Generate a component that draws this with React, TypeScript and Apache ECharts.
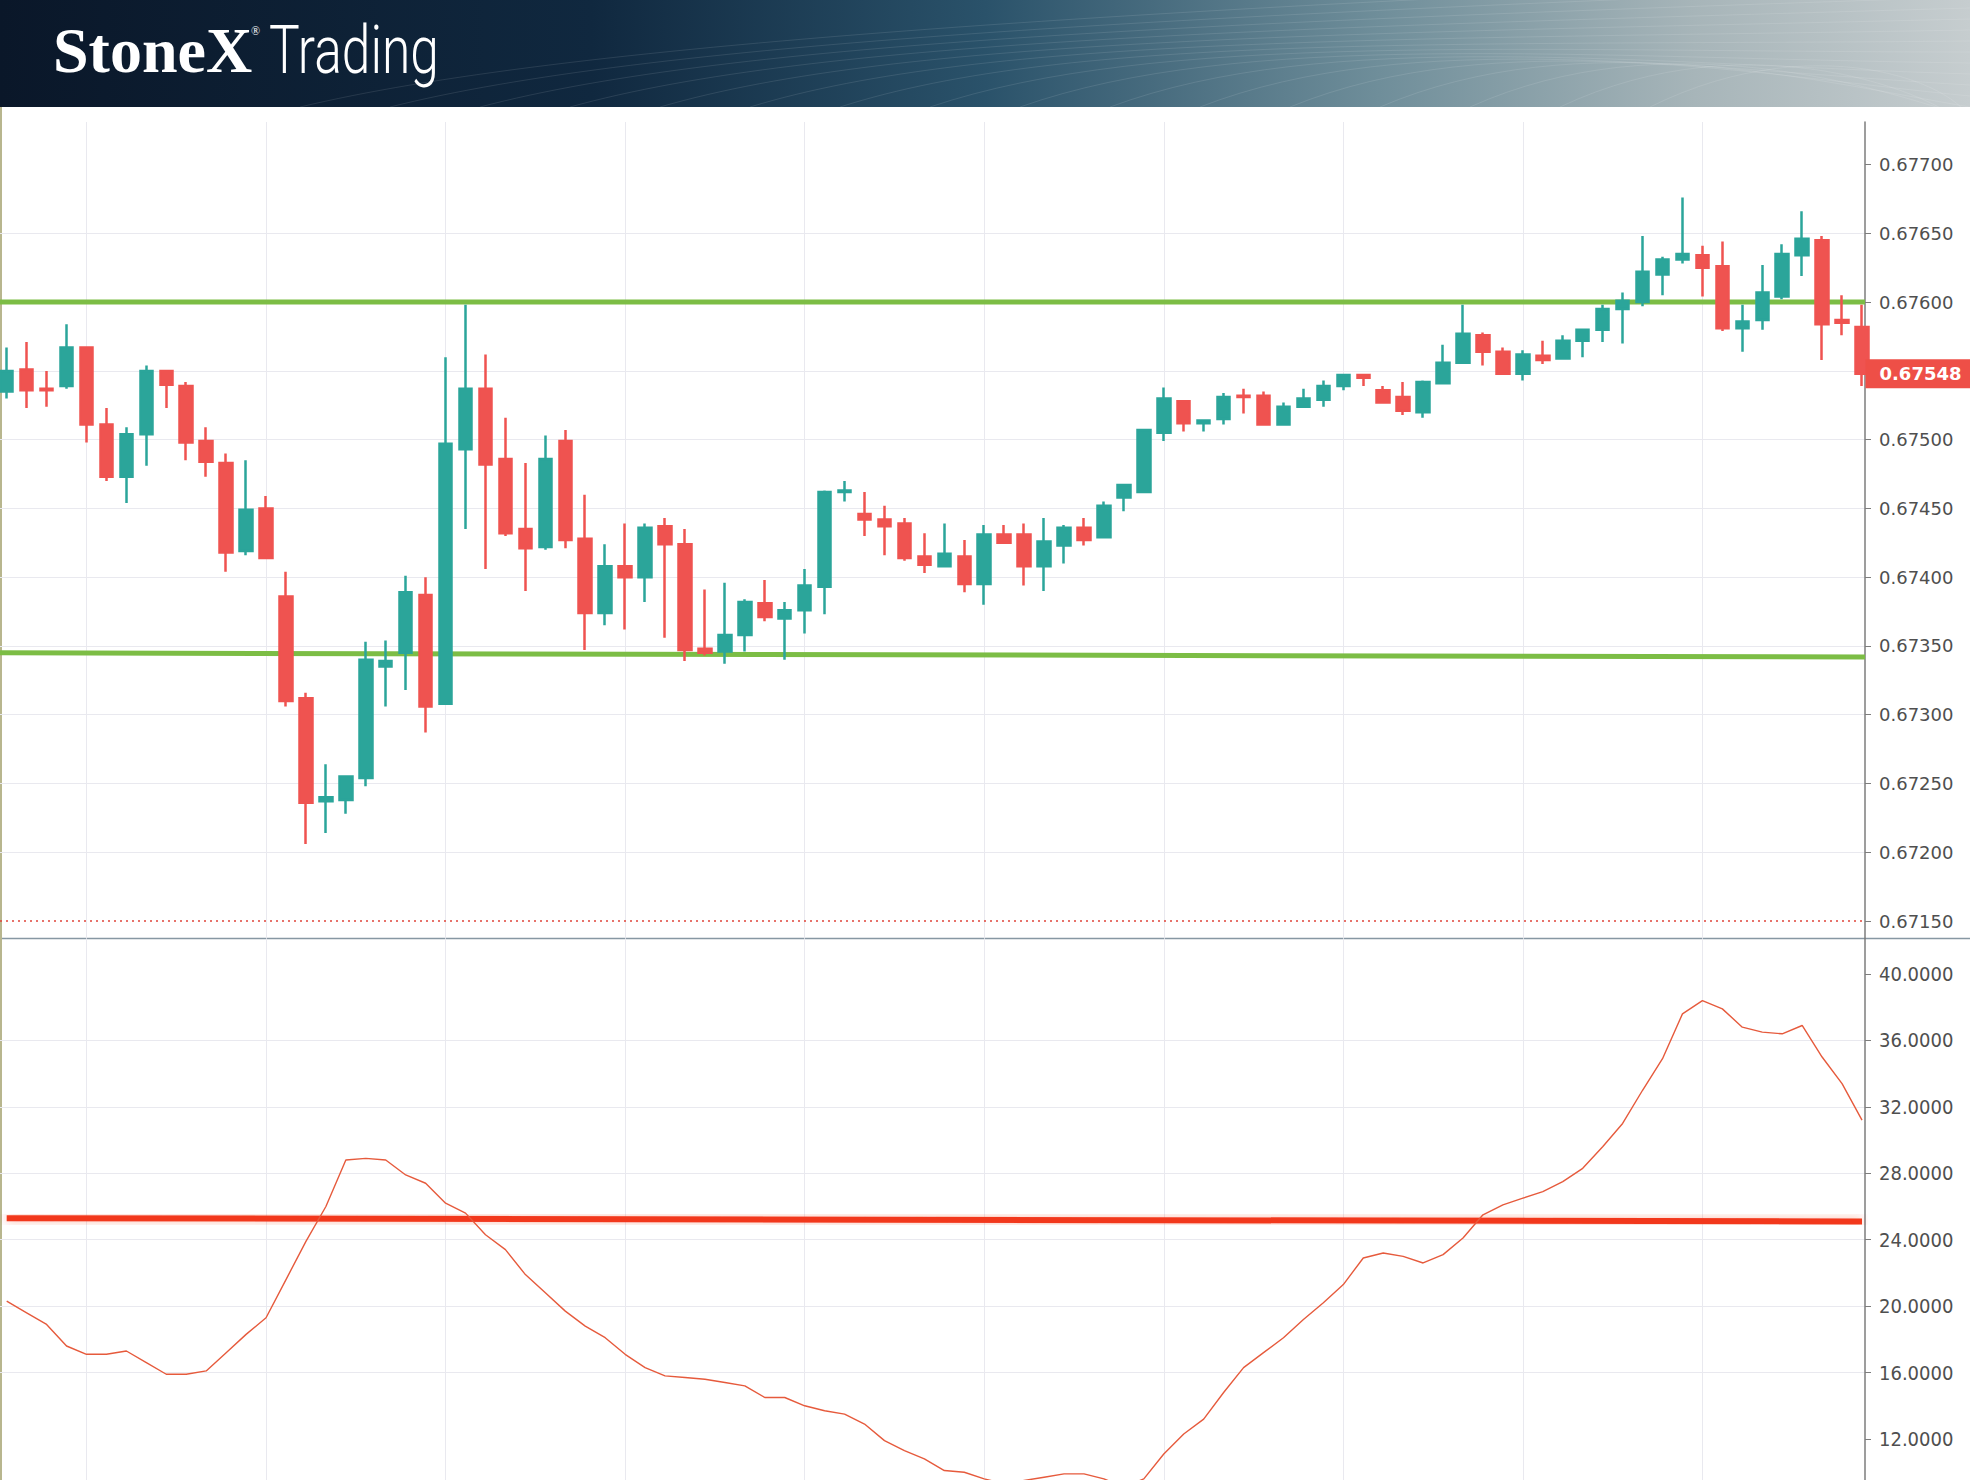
import React, { useEffect, useRef } from "react";
import * as echarts from "echarts";

// ---- Data ----
const opens = [
  0.67535, 0.67551, 0.67537, 0.67539, 0.67567, 0.67511, 0.67473, 0.67504, 0.6755, 0.67539,
  0.67499, 0.67483, 0.67419, 0.6745, 0.67386, 0.67312, 0.67237, 0.67238, 0.67254, 0.67335,
  0.67345, 0.67387, 0.67308, 0.67493, 0.67537, 0.67486, 0.67435, 0.67422, 0.67499, 0.67428,
  0.67374, 0.67408, 0.674, 0.67437, 0.67424, 0.67348, 0.67346, 0.67358, 0.67381, 0.6737,
  0.67376, 0.67393, 0.67462, 0.67446, 0.67442, 0.67439, 0.67415, 0.67408, 0.67415, 0.67395,
  0.67431, 0.67431, 0.67408, 0.67423, 0.67436, 0.67429, 0.67458, 0.67462, 0.67505, 0.67528,
  0.67512, 0.67515, 0.67532, 0.67532, 0.67511, 0.67524, 0.67529, 0.67539, 0.67547, 0.67536,
  0.67531, 0.6752, 0.67541, 0.67556, 0.67576, 0.67564, 0.67548, 0.67561, 0.67559, 0.67572,
  0.6758, 0.67595, 0.676, 0.6762, 0.67631, 0.67634, 0.67626, 0.67581, 0.67587, 0.67604,
  0.67634, 0.67645, 0.67587, 0.67582,
];
const closes = [
  0.6755, 0.67536, 0.67536, 0.67567, 0.67511, 0.67473, 0.67504, 0.6755, 0.6754, 0.67498,
  0.67484, 0.67418, 0.67449, 0.67414, 0.6731, 0.67236, 0.6724, 0.67255, 0.6734, 0.67339,
  0.67389, 0.67306, 0.67497, 0.67537, 0.67482, 0.67432, 0.67421, 0.67486, 0.67427, 0.67374,
  0.67408, 0.674, 0.67436, 0.67424, 0.67347, 0.67345, 0.67358, 0.67382, 0.67371, 0.67376,
  0.67394, 0.67462, 0.67463, 0.67442, 0.67437, 0.67414, 0.67409, 0.67417, 0.67395, 0.67431,
  0.67425, 0.67408, 0.67426, 0.67436, 0.67427, 0.67452, 0.67467, 0.67507, 0.6753, 0.67512,
  0.67514, 0.67531, 0.67531, 0.67511, 0.67524, 0.6753, 0.67539, 0.67547, 0.67545, 0.67527,
  0.67521, 0.67542, 0.67556, 0.67577, 0.67564, 0.67548, 0.67562, 0.67558, 0.67572, 0.6758,
  0.67595, 0.67601, 0.67622, 0.67631, 0.67635, 0.67625, 0.67581, 0.67586, 0.67607, 0.67635,
  0.67646, 0.67584, 0.67585, 0.67548,
];
const lows = [
  0.6753, 0.67523, 0.67524, 0.67537, 0.67498, 0.6747, 0.67454, 0.67481, 0.67523, 0.67485,
  0.67473, 0.67404, 0.67416, 0.67414, 0.67306, 0.67206, 0.67214, 0.67228, 0.67248, 0.67306,
  0.67318, 0.67287, 0.67307, 0.67435, 0.67406, 0.6743, 0.6739, 0.6742, 0.67421, 0.67347,
  0.67365, 0.67362, 0.67382, 0.67356, 0.67339, 0.67343, 0.67337, 0.67346, 0.67368, 0.6734,
  0.67359, 0.67373, 0.67455, 0.6743, 0.67416, 0.67412, 0.67403, 0.67408, 0.67389, 0.6738,
  0.67425, 0.67394, 0.6739, 0.6741, 0.67423, 0.67429, 0.67448, 0.67462, 0.67499, 0.67506,
  0.67506, 0.67511, 0.67519, 0.67511, 0.67511, 0.67523, 0.67524, 0.67536, 0.67539, 0.67527,
  0.67518, 0.67516, 0.67541, 0.67556, 0.67554, 0.67547, 0.67543, 0.67555, 0.67559, 0.6756,
  0.67571, 0.6757, 0.67597, 0.67605, 0.67628, 0.67604, 0.67579, 0.67564, 0.6758, 0.67602,
  0.67619, 0.67558, 0.67576, 0.67539,
];
const highs = [
  0.67567, 0.67571, 0.6755, 0.67584, 0.67567, 0.67523, 0.67509, 0.67554, 0.6755, 0.67542,
  0.67509, 0.6749, 0.67485, 0.67459, 0.67404, 0.67316, 0.67264, 0.67255, 0.67353, 0.67354,
  0.67401, 0.674, 0.6756, 0.67598, 0.67562, 0.67516, 0.67483, 0.67503, 0.67507, 0.6746,
  0.67424, 0.67439, 0.67439, 0.67443, 0.67435, 0.67391, 0.67396, 0.67384, 0.67398, 0.67382,
  0.67406, 0.67463, 0.6747, 0.67462, 0.67452, 0.67443, 0.67432, 0.67439, 0.67427, 0.67438,
  0.67438, 0.67439, 0.67443, 0.67438, 0.67443, 0.67455, 0.67468, 0.67507, 0.67538, 0.67528,
  0.67514, 0.67534, 0.67537, 0.67535, 0.67527, 0.67537, 0.67543, 0.67547, 0.67547, 0.67539,
  0.67542, 0.67543, 0.67569, 0.67598, 0.67578, 0.67567, 0.67565, 0.67572, 0.67576, 0.6758,
  0.67598, 0.67607, 0.67648, 0.67633, 0.67676, 0.67641, 0.67644, 0.67598, 0.67627, 0.67642,
  0.67666, 0.67648, 0.67605, 0.67598,
];
const indicator = [
  20.3, 19.6, 18.9, 17.6, 17.1, 17.1, 17.3, 16.6, 15.9, 15.9,
  16.1, 17.2, 18.3, 19.3, 21.6, 23.9, 26.0, 28.8, 28.9, 28.8,
  27.9, 27.4, 26.2, 25.6, 24.3, 23.4, 21.9, 20.8, 19.7, 18.8,
  18.1, 17.1, 16.3, 15.8, 15.7, 15.6, 15.4, 15.2, 14.5, 14.5,
  14.0, 13.7, 13.5, 12.9, 11.9, 11.3, 10.8, 10.1, 10.0, 9.6,
  9.3, 9.5, 9.7, 9.9, 9.9, 9.6, 9.1, 9.6, 11.1, 12.3,
  13.2, 14.8, 16.3, 17.2, 18.1, 19.2, 20.2, 21.3, 22.9, 23.2,
  23.0, 22.6, 23.1, 24.1, 25.5, 26.1, 26.5, 26.9, 27.5, 28.3,
  29.6, 31.0, 33.0, 34.9, 37.6, 38.4, 37.9, 36.8, 36.5, 36.4,
  36.9, 35.0, 33.4, 31.2,
];
const priceTicks = [0.6715, 0.672, 0.6725, 0.673, 0.6735, 0.674, 0.6745, 0.675, 0.6755, 0.676, 0.6765, 0.677];
const priceLabels = [0.6715, 0.672, 0.6725, 0.673, 0.6735, 0.674, 0.6745, 0.675, 0.676, 0.6765, 0.677];
const indicatorTicks = [12, 16, 20, 24, 28, 32, 36, 40];
const verticalGridAt = [4, 13, 22, 31, 40, 49, 58, 67, 76, 85];
const resistance = [0.676, 0.676];
const support = [0.67345, 0.67342];
const thresholdLevel = [25.3, 25.1];
const dottedLevel = 0.6715;
const lastPrice = 0.67548;

// ---- Layout ----
const W = 1970;
const H = 1480;
const PLOT_W = 1865;
const UP_TOP = 122;
const SEP_Y = 938.5;
const X_MIN = -0.336;
const X_MAX = 93.15;
const P_MIN = 0.6713728;
const P_MAX = 0.6773097;
const I_MIN = 9.531;
const I_MAX = 42.138;

const TEAL = "#2ba59a";
const RED = "#ef5350";
const GREEN = "#7cbd45";
const GRID_LINE = "#e9e9ef";

export default function App() {
  const ref = useRef<HTMLDivElement>(null);

  useEffect(() => {
    if (!ref.current) return;
    document.body.style.margin = "0";
    const chart = echarts.init(ref.current, null, { renderer: "svg", width: W, height: H });

    const candleData = opens.map((o, i) => [i, o, closes[i], lows[i], highs[i]]);
    const lineData = indicator.map((v, i) => [i, v]);
    const lastIdx = opens.length - 1;

    const swirls: any[] = [];
    for (let k = 0; k < 16; k++) {
      swirls.push({
        type: "bezierCurve",
        silent: true,
        shape: {
          x1: 300 + k * 90,
          y1: 107,
          cpx1: 560 + k * 85,
          cpy1: 45 - k * 2,
          cpx2: 1100 + k * 60,
          cpy2: 10 + k * 6,
          x2: 1970,
          y2: -25 + k * 11,
        },
        style: { fill: "none", stroke: "rgba(255,255,255,0.10)", lineWidth: 1 },
      });
    }

    const verticalGrid = (z: number) => ({
      silent: true,
      z,
      symbol: ["none", "none"],
      animation: false,
      label: { show: false },
      data: verticalGridAt.map((v) => ({ xAxis: v, lineStyle: { color: GRID_LINE, width: 1, type: "solid" } })),
    });

    const option: any = {
      animation: false,
      backgroundColor: "#ffffff",
      grid: [
        { left: 0, top: UP_TOP, width: PLOT_W, height: SEP_Y - UP_TOP },
        { left: 0, top: SEP_Y, width: PLOT_W, height: H - SEP_Y },
      ],
      xAxis: [
        { type: "value", gridIndex: 0, min: X_MIN, max: X_MAX, show: false },
        { type: "value", gridIndex: 1, min: X_MIN, max: X_MAX, show: false },
      ],
      yAxis: [
        {
          type: "value",
          gridIndex: 0,
          position: "right",
          min: P_MIN,
          max: P_MAX,
          minInterval: 0.0005,
          maxInterval: 0.0005,
          axisLine: { show: true, onZero: false, lineStyle: { color: "#7d7d7d", width: 1.5 } },
          axisTick: { show: true, length: 6, customValues: priceTicks, lineStyle: { color: "#7d7d7d" } },
          axisLabel: {
            customValues: priceLabels,
            formatter: (v: number) => v.toFixed(5),
            color: "#4f4f4f",
            fontSize: 18,
            fontFamily: "DejaVu Sans",
            margin: 14,
          },
          splitLine: { show: true, showMinLine: false, showMaxLine: false, lineStyle: { color: GRID_LINE, width: 1 } },
        },
        {
          type: "value",
          gridIndex: 1,
          position: "right",
          min: I_MIN,
          max: I_MAX,
          minInterval: 4,
          maxInterval: 4,
          axisLine: { show: true, onZero: false, lineStyle: { color: "#7d7d7d", width: 1.5 } },
          axisTick: { show: true, length: 6, customValues: indicatorTicks, lineStyle: { color: "#7d7d7d" } },
          axisLabel: {
            customValues: indicatorTicks,
            formatter: (v: number) => v.toFixed(4),
            color: "#4f4f4f",
            fontSize: 20,
            fontFamily: "'Liberation Sans Narrow', 'DejaVu Sans Condensed', 'Roboto', sans-serif",
            margin: 14,
          },
          splitLine: { show: true, showMinLine: false, showMaxLine: false, lineStyle: { color: GRID_LINE, width: 1 } },
        },
      ],
      series: [
        {
          name: "dotted",
          type: "line",
          xAxisIndex: 0,
          yAxisIndex: 0,
          z: 1,
          data: [[X_MIN, dottedLevel], [X_MAX, dottedLevel]],
          showSymbol: false,
          silent: true,
          lineStyle: { color: "#e0443a", width: 1.5, type: [2, 4] },
          markLine: verticalGrid(0),
        },
        {
          name: "resistance",
          type: "line",
          xAxisIndex: 0,
          yAxisIndex: 0,
          z: 1,
          data: [[X_MIN, resistance[0]], [X_MAX, resistance[1]]],
          showSymbol: false,
          silent: true,
          lineStyle: { color: GREEN, width: 5 },
        },
        {
          name: "support",
          type: "line",
          xAxisIndex: 0,
          yAxisIndex: 0,
          z: 1,
          data: [[X_MIN, support[0]], [X_MAX, support[1]]],
          showSymbol: false,
          silent: true,
          lineStyle: { color: GREEN, width: 5 },
        },
        {
          name: "price",
          type: "candlestick",
          xAxisIndex: 0,
          yAxisIndex: 0,
          z: 3,
          data: candleData,
          encode: { x: 0, y: [1, 2, 3, 4] },
          barWidth: 13,
          silent: true,
          itemStyle: {
            color: TEAL,
            color0: RED,
            borderColor: TEAL,
            borderColor0: RED,
            borderWidth: 2.5,
          },
        },
        {
          name: "lastPrice",
          type: "scatter",
          xAxisIndex: 0,
          yAxisIndex: 0,
          clip: false,
          silent: true,
          symbolSize: 1,
          itemStyle: { color: "rgba(0,0,0,0)", opacity: 1 },
          data: [[X_MAX, lastPrice]],
          label: {
            show: true,
            position: "right",
            distance: 0,
            opacity: 1,
            formatter: () => lastPrice.toFixed(5),
            color: "#ffffff",
            fontWeight: "bold",
            fontSize: 18,
            fontFamily: "DejaVu Sans",
            backgroundColor: "#ee4f47",
            padding: [6, 14, 5, 14],
          },
          z: 10,
        },
        {
          name: "indicator",
          type: "line",
          xAxisIndex: 1,
          yAxisIndex: 1,
          z: 3,
          data: lineData,
          showSymbol: false,
          silent: true,
          lineStyle: { color: "#e65a3c", width: 1.4 },
          markLine: verticalGrid(0),
        },
        {
          name: "threshold",
          type: "line",
          xAxisIndex: 1,
          yAxisIndex: 1,
          z: 2,
          data: [[0, thresholdLevel[0]], [lastIdx, thresholdLevel[1]]],
          showSymbol: false,
          silent: true,
          lineStyle: { color: "#f2381c", width: 6, shadowBlur: 10, shadowColor: "rgba(242,56,28,0.35)" },
        },
      ],
      graphic: [
        {
          type: "rect",
          silent: true,
          shape: { x: 0, y: 0, width: W, height: 107 },
          style: {
            fill: {
              type: "linear",
              x: 0,
              y: 0,
              x2: 1,
              y2: 0,
              colorStops: [
                { offset: 0, color: "#0a1729" },
                { offset: 0.3, color: "#10283f" },
                { offset: 0.5, color: "#2a526a" },
                { offset: 0.7, color: "#6f8e9a" },
                { offset: 0.86, color: "#a7b5b9" },
                { offset: 1, color: "#c6cdcf" },
              ],
            },
          },
        },
        ...swirls,
        {
          type: "text",
          silent: true,
          x: 53,
          y: 50,
          style: {
            text: "StoneX",
            fill: "#ffffff",
            fontSize: 64,
            fontWeight: "bold",
            fontFamily: "'Liberation Serif', 'DejaVu Serif', serif",
            verticalAlign: "middle",
            align: "left",
          },
        },
        {
          type: "text",
          silent: true,
          x: 251,
          y: 31,
          style: {
            text: "®",
            fill: "#ffffff",
            fontSize: 12,
            fontFamily: "'Liberation Serif', serif",
            verticalAlign: "middle",
            align: "left",
          },
        },
        {
          type: "text",
          silent: true,
          x: 269,
          y: 50,
          scaleX: 0.78,
          style: {
            text: "Trading",
            fill: "#ffffff",
            fontSize: 66,
            fontWeight: 300,
            fontFamily: "Roboto, 'Open Sans', sans-serif",
            verticalAlign: "middle",
            align: "left",
          },
        },
        {
          type: "line",
          silent: true,
          shape: { x1: 0, y1: SEP_Y, x2: W, y2: SEP_Y },
          style: { stroke: "#8797a3", lineWidth: 1.5 },
        },
        {
          type: "line",
          silent: true,
          shape: { x1: 1, y1: 107, x2: 1, y2: H },
          style: { stroke: "#b8b68e", lineWidth: 2 },
        },
      ],
    };

    chart.setOption(option);
    return () => chart.dispose();
  }, []);

  return (
    <div
      ref={ref}
      style={{ position: "fixed", left: 0, top: 0, width: W, height: H, background: "#fff" }}
    />
  );
}
